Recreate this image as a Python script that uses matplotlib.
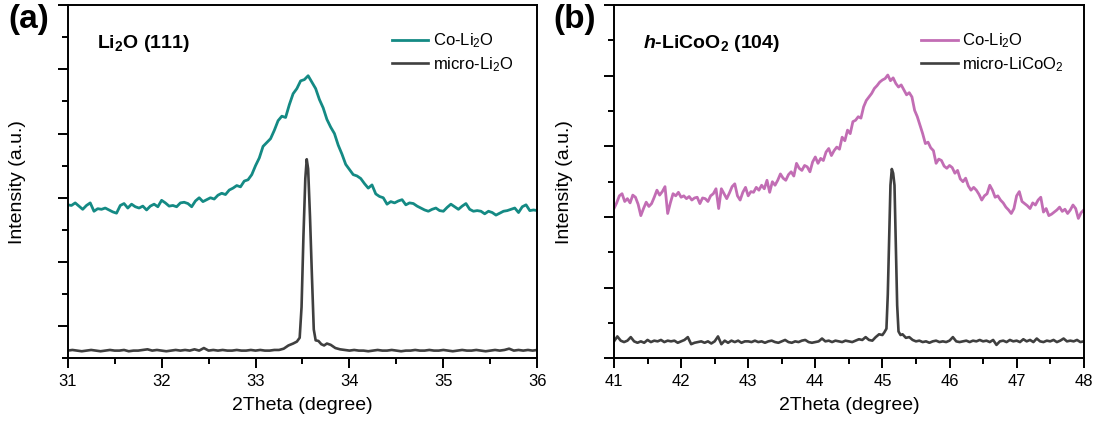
import numpy as np
import matplotlib
matplotlib.use("Agg")
import matplotlib.pyplot as plt
from matplotlib.ticker import MultipleLocator

plt.rcParams['font.family'] = ['Liberation Sans', 'DejaVu Sans']
plt.rcParams['mathtext.fontset'] = 'custom'
plt.rcParams['mathtext.rm'] = 'Liberation Sans'
plt.rcParams['mathtext.it'] = 'Liberation Sans:italic'
plt.rcParams['mathtext.bf'] = 'Liberation Sans:bold'
plt.rcParams['mathtext.bfit'] = 'Liberation Sans:italic:bold'
plt.rcParams['mathtext.default'] = 'regular'

# ---- (a) Li2O (111), 31-36 deg ----
# Co-Li2O scan, 0.04 deg step from 31.00
co_a_start, co_a_step = 31.00, 0.04
co_a = [
    1.89, 1.88, 1.92, 1.87, 1.82, 1.88, 1.92, 1.79, 1.83, 1.82,
    1.84, 1.81, 1.78, 1.76, 1.88, 1.91, 1.84, 1.90, 1.86, 1.84,
    1.87, 1.81, 1.87, 1.90, 1.86, 1.96, 1.92, 1.87, 1.88, 1.86,
    1.92, 1.93, 1.91, 1.86, 1.95, 2.00, 1.94, 1.97, 2.00, 1.98,
    2.04, 2.07, 2.05, 2.12, 2.15, 2.19, 2.17, 2.26, 2.28, 2.36,
    2.50, 2.62, 2.80, 2.86, 2.92, 3.05, 3.20, 3.27, 3.25, 3.45,
    3.62, 3.70, 3.82, 3.84, 3.90, 3.80, 3.70, 3.53, 3.40, 3.22,
    3.10, 3.00, 2.82, 2.68, 2.52, 2.44, 2.36, 2.34, 2.30, 2.22,
    2.15, 2.20, 2.06, 2.02, 2.00, 1.90, 1.94, 1.92, 1.95, 1.97,
    1.89, 1.92, 1.91, 1.87, 1.84, 1.81, 1.79, 1.82, 1.84, 1.80,
    1.79, 1.85, 1.90, 1.86, 1.82, 1.87, 1.91, 1.82, 1.79, 1.80,
    1.79, 1.75, 1.79, 1.77, 1.73, 1.76, 1.79, 1.80, 1.82, 1.84,
    1.77, 1.86, 1.89, 1.80, 1.81, 1.80,
]

# micro-Li2O: baseline before the peak (0.05 step), the peak, baseline after
micro_a_left = [
    -0.38, -0.37, -0.38, -0.39, -0.38, -0.37, -0.38, -0.39, -0.38, -0.37,
    -0.38, -0.38, -0.37, -0.39, -0.38, -0.38, -0.37, -0.36, -0.38, -0.37,
    -0.38, -0.39, -0.38, -0.37, -0.38, -0.37, -0.38, -0.36, -0.38, -0.34,
    -0.38, -0.37, -0.38, -0.37, -0.38, -0.38, -0.37, -0.38, -0.38, -0.37,
    -0.38, -0.37, -0.38, -0.38, -0.37, -0.37, -0.35, -0.30, -0.27,
]
micro_a_peak_x = [33.44, 33.47, 33.49, 33.51, 33.53, 33.545, 33.56, 33.58,
                  33.60, 33.62, 33.64, 33.67, 33.70, 33.73, 33.76, 33.80, 33.85]
micro_a_peak_y = [-0.24, -0.18, 0.30, 1.40, 2.30, 2.60, 2.45, 1.70,
                  0.80, -0.05, -0.22, -0.23, -0.28, -0.30, -0.27, -0.29, -0.34]
micro_a_right = [
    -0.36, -0.37, -0.38, -0.37, -0.38, -0.38, -0.39, -0.38, -0.37, -0.38,
    -0.38, -0.37, -0.38, -0.39, -0.38, -0.38, -0.37, -0.38, -0.38, -0.37,
    -0.38, -0.38, -0.37, -0.38, -0.39, -0.38, -0.37, -0.38, -0.38, -0.37,
    -0.38, -0.39, -0.38, -0.37, -0.38, -0.37, -0.35, -0.38, -0.37, -0.38,
    -0.37, -0.38, -0.37,
]

# ---- (b) h-LiCoO2 (104), 41-48 deg ----
co_b_start, co_b_step = 41.00, 0.04
co_b = [
    2.12, 2.20, 2.30, 2.33, 2.22, 2.26, 2.20, 2.31, 2.28, 2.18,
    2.02, 2.12, 2.21, 2.15, 2.19, 2.28, 2.38, 2.31, 2.36, 2.43,
    2.05, 2.20, 2.33, 2.30, 2.35, 2.28, 2.30, 2.26, 2.29, 2.24,
    2.27, 2.28, 2.19, 2.27, 2.26, 2.22, 2.30, 2.33, 2.40, 2.12,
    2.40, 2.33, 2.26, 2.34, 2.43, 2.47, 2.30, 2.24, 2.35, 2.42,
    2.30, 2.36, 2.35, 2.42, 2.38, 2.45, 2.40, 2.52, 2.35, 2.50,
    2.45, 2.52, 2.61, 2.55, 2.52, 2.60, 2.64, 2.58, 2.76, 2.69,
    2.66, 2.73, 2.71, 2.64, 2.78, 2.85, 2.76, 2.83, 2.80, 2.92,
    2.97, 2.87, 2.94, 2.99, 2.96, 3.13, 3.08, 3.23, 3.18, 3.35,
    3.37, 3.42, 3.40, 3.56, 3.65, 3.70, 3.75, 3.82, 3.86, 3.91,
    3.94, 3.96, 4.01, 3.93, 3.97, 3.89, 3.84, 3.87, 3.80, 3.73,
    3.76, 3.70, 3.51, 3.42, 3.30, 3.18, 3.04, 3.06, 2.98, 2.94,
    2.76, 2.82, 2.80, 2.72, 2.69, 2.73, 2.70, 2.62, 2.66, 2.54,
    2.50, 2.55, 2.44, 2.38, 2.42, 2.38, 2.32, 2.24, 2.30, 2.33,
    2.45, 2.38, 2.28, 2.30, 2.24, 2.20, 2.14, 2.10, 2.05, 2.12,
    2.30, 2.36, 2.22, 2.19, 2.16, 2.12, 2.20, 2.17, 2.24, 2.28,
    2.07, 2.12, 2.02, 2.04, 2.07, 2.10, 2.14, 2.08, 2.11, 2.05,
    2.10, 2.17, 2.12, 1.98, 2.06, 2.10,
]

micro_b_left = [
    0.24, 0.31, 0.25, 0.23, 0.25, 0.30, 0.24, 0.22, 0.24, 0.22,
    0.26, 0.23, 0.25, 0.24, 0.26, 0.23, 0.25, 0.24, 0.25, 0.22,
    0.24, 0.26, 0.30, 0.20, 0.22, 0.23, 0.24, 0.22, 0.24, 0.21,
    0.24, 0.31, 0.20, 0.25, 0.22, 0.25, 0.23, 0.25, 0.22, 0.24,
    0.24, 0.23, 0.25, 0.23, 0.24, 0.22, 0.24, 0.25, 0.23, 0.22,
    0.24, 0.26, 0.23, 0.22, 0.24, 0.23, 0.25, 0.26, 0.23, 0.22,
    0.23, 0.24, 0.28, 0.24, 0.25, 0.23, 0.25, 0.24, 0.23, 0.25,
    0.24, 0.23, 0.25, 0.27, 0.26, 0.30, 0.26, 0.25, 0.30, 0.34,
]
micro_b_peak_x = [45.00, 45.03, 45.06, 45.08, 45.10, 45.12, 45.14,
                  45.16, 45.18, 45.20, 45.22, 45.24, 45.27]
micro_b_peak_y = [0.33, 0.37, 0.42, 0.90, 1.70, 2.45, 2.68,
                  2.62, 2.45, 1.60, 0.75, 0.38, 0.33]
micro_b_right = [
    0.34, 0.29, 0.30, 0.26, 0.24, 0.25, 0.23, 0.24, 0.22, 0.24,
    0.25, 0.23, 0.24, 0.23, 0.25, 0.30, 0.24, 0.23, 0.24, 0.25,
    0.23, 0.25, 0.24, 0.26, 0.24, 0.25, 0.23, 0.26, 0.19, 0.24,
    0.25, 0.23, 0.26, 0.24, 0.25, 0.23, 0.27, 0.24, 0.26, 0.23,
    0.28, 0.24, 0.23, 0.25, 0.24, 0.26, 0.23, 0.25, 0.28, 0.24,
    0.25, 0.24, 0.26, 0.23, 0.24,
]

TEAL = '#148a84'
PINK = '#c26db4'
DARK = '#3f3f3f'


def grid(start, step, vals):
    return start + step * np.arange(len(vals))


def stitch(left_start, left, px, py, right_start, right, step=0.05):
    x = np.concatenate([grid(left_start, step, left), px, grid(right_start, step, right)])
    y = np.concatenate([left, py, right])
    return x, y


xa_micro, ya_micro = stitch(31.00, micro_a_left, micro_a_peak_x, micro_a_peak_y,
                            33.90, micro_a_right)
xb_micro, yb_micro = stitch(41.00, micro_b_left, micro_b_peak_x, micro_b_peak_y,
                            45.30, micro_b_right)

fig = plt.figure(figsize=(10.97, 4.21), dpi=100)
ax_a = fig.add_axes([0.0617, 0.1489, 0.4281, 0.839])
ax_b = fig.add_axes([0.5597, 0.1489, 0.4282, 0.839])

ax_a.plot(grid(co_a_start, co_a_step, co_a), co_a, color=TEAL, lw=2.0,
          label='Co-Li$_2$O')
ax_a.plot(xa_micro, ya_micro, color=DARK, lw=1.9, label='micro-Li$_2$O')
ax_b.plot(grid(co_b_start, co_b_step, co_b), co_b, color=PINK, lw=2.0,
          label='Co-Li$_2$O')
ax_b.plot(xb_micro, yb_micro, color=DARK, lw=1.9, label='micro-LiCoO$_2$')

ax_a.set_xlim(31, 36)
ax_a.set_ylim(-0.5, 5)
ax_b.set_xlim(41, 48)
ax_b.set_ylim(0, 5)

for ax, leg_x in ((ax_a, 0.69), (ax_b, 0.654)):
    ax.xaxis.set_major_locator(MultipleLocator(1))
    ax.xaxis.set_minor_locator(MultipleLocator(0.5))
    ax.yaxis.set_major_locator(MultipleLocator(1))
    ax.yaxis.set_minor_locator(MultipleLocator(0.5))
    ax.tick_params(which='major', direction='out', length=7, width=1.4,
                   labelsize=12, pad=4, top=False, right=False)
    ax.tick_params(which='minor', direction='out', length=4, width=1.4,
                   top=False, right=False)
    ax.tick_params(axis='y', labelleft=False)
    for s in ax.spines.values():
        s.set_linewidth(1.4)
    ax.set_xlabel('2Theta (degree)', fontsize=14, labelpad=6)
    ax.set_ylabel('Intensity (a.u.)', fontsize=14)
    ax.yaxis.set_label_coords(-0.088, 0.5)
    ax.legend(loc='upper left', bbox_to_anchor=(leg_x, 0.925), frameon=False,
              fontsize=12, handlelength=2.2, handletextpad=0.25,
              labelspacing=0.3, borderpad=0, borderaxespad=0)

ax_a.text(0.062, 0.892, r'$\mathbf{Li_2O}$ (111)', transform=ax_a.transAxes,
          fontsize=14, weight='bold', va='center', ha='left')
ax_b.text(0.062, 0.892, r'$\mathbfit{h}$-$\mathbf{LiCoO_2}$ (104)',
          transform=ax_b.transAxes, fontsize=14, weight='bold',
          va='center', ha='left')

fig.text(8 / 1097, 1 - 4 / 421, '(a)', fontsize=24, weight='bold',
         ha='left', va='top')
fig.text(553 / 1097, 1 - 4 / 421, '(b)', fontsize=24, weight='bold',
         ha='left', va='top')

fig.savefig('out.png', dpi=100)
